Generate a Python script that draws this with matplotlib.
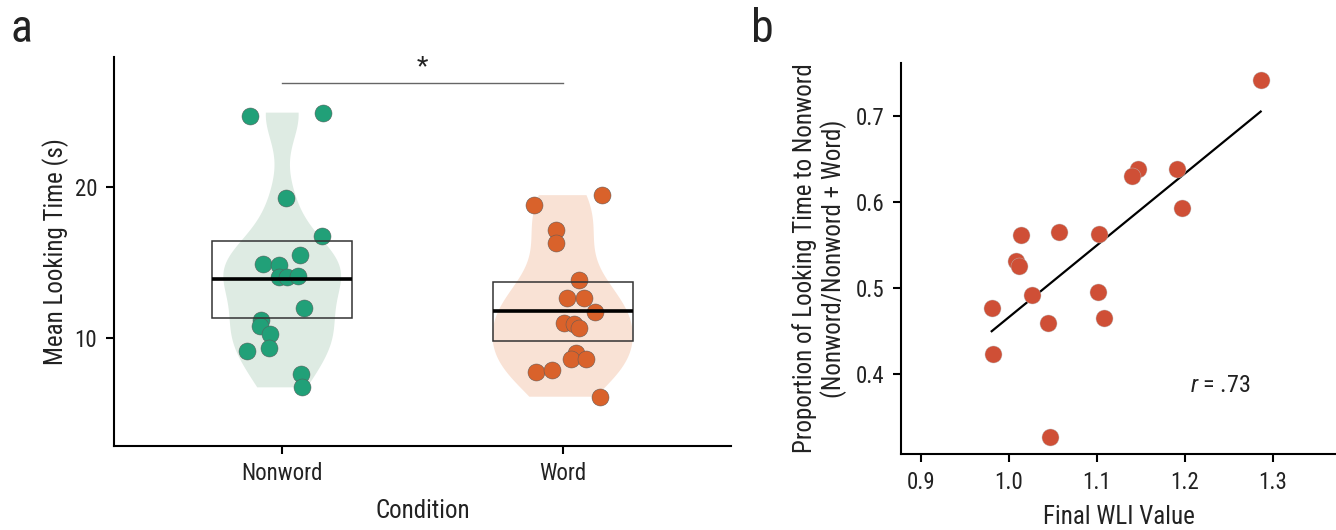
import numpy as np
import matplotlib
matplotlib.use("Agg")
import matplotlib.pyplot as plt
from matplotlib.patches import Rectangle

families = ['Roboto Condensed', 'Liberation Sans', 'DejaVu Sans']
plt.rcParams['font.family'] = families
plt.rcParams['mathtext.fontset'] = 'custom'
plt.rcParams['mathtext.rm'] = 'Roboto Condensed'
plt.rcParams['mathtext.it'] = 'Roboto Condensed:italic'

# --- Panel a: mean looking time per condition ---
conditions = ["Nonword", "Word"]
nonword_time = [24.69, 24.91, 19.22, 16.74, 15.46, 14.85, 14.80, 14.03, 13.99,
                14.09, 11.97, 11.14, 10.78, 10.21, 9.13, 9.28, 7.56, 6.70]
nonword_jitter = [-0.114, 0.145, 0.012, 0.143, 0.064, -0.070, -0.011, -0.013, 0.017,
                  0.058, 0.078, -0.075, -0.081, -0.043, -0.126, -0.047, 0.067, 0.071]
word_time = [18.77, 19.44, 17.12, 16.24, 13.79, 12.64, 12.64, 11.71, 10.96,
             10.92, 10.61, 8.99, 8.56, 8.56, 7.74, 7.87, 6.08]
word_jitter = [-0.103, 0.141, -0.025, -0.022, 0.058, 0.016, 0.076, 0.116, 0.004,
               0.039, 0.059, 0.048, 0.031, 0.082, -0.094, -0.039, 0.134]
ci_low = [11.32, 9.78]
ci_mean = [13.87, 11.76]
ci_high = [16.39, 13.67]
sig_level = 26.9

# --- Panel b: WLI vs proportion of looking time ---
wli = [1.2864, 1.1474, 1.1406, 1.1917, 1.1974, 1.0140, 1.0568, 1.1026, 1.0080,
       1.0114, 1.0269, 0.9807, 1.1015, 1.0443, 1.1087, 0.9818, 1.0469]
prop_nonword = [0.742, 0.6387, 0.6306, 0.6376, 0.5930, 0.5612, 0.5651, 0.5628, 0.5314,
                0.5248, 0.4919, 0.4767, 0.4949, 0.4593, 0.4643, 0.4224, 0.3267]
r_label = "$r$ = .73"

point_colors = ["#21a078", "#d9622b"]
violin_colors = ["#deebe3", "#f9e2d5"]
text_col = "#222222"


def nrd0(kde):
    # Silverman's rule of thumb as used by R's density() default
    d = np.asarray(kde.dataset).ravel()
    sd = d.std(ddof=1)
    iqr = np.subtract(*np.percentile(d, [75, 25]))
    return 0.9 * min(sd, iqr / 1.34) / sd * len(d) ** -0.2


fig = plt.figure(figsize=(13.36, 5.3), dpi=100)

# ---------- panel a ----------
ax1 = fig.add_axes([0.0853, 0.159, 0.4618, 0.7335])
parts = ax1.violinplot([nonword_time, word_time], positions=[0, 1],
                       widths=[0.42, 0.5], showextrema=False, bw_method=nrd0)
for body, c in zip(parts['bodies'], violin_colors):
    body.set_facecolor(c)
    body.set_edgecolor('none')
    body.set_alpha(1)
    body.set_zorder(1)

for i, (t, j) in enumerate([(nonword_time, nonword_jitter), (word_time, word_jitter)]):
    ax1.scatter(np.array(j) + i, t, s=150, color=point_colors[i],
                edgecolors='#5a5a5a', linewidths=0.35, zorder=3)
    ax1.add_patch(Rectangle((i - 0.25, ci_low[i]), 0.5, ci_high[i] - ci_low[i],
                            fill=False, ec='#333333', lw=1.1, zorder=4))
    ax1.plot([i - 0.25, i + 0.25], [ci_mean[i], ci_mean[i]], color='black',
             lw=2.6, zorder=5, solid_capstyle='butt')

ax1.plot([0, 1], [sig_level, sig_level], color='#666666', lw=1)
ax1.text(0.5, sig_level + 1.0, '*', ha='center', va='center', fontsize=19, color=text_col)

ax1.set_xlim(-0.6, 1.6)
ax1.set_ylim(2.83, 28.6)
ax1.set_xticks([0, 1])
ax1.set_xticklabels(conditions)
ax1.set_yticks([10, 20])
ax1.set_xlabel("Condition", fontsize=18, color=text_col, labelpad=10)
ax1.set_ylabel("Mean Looking Time (s)", fontsize=18, color=text_col)

# ---------- panel b ----------
ax2 = fig.add_axes([0.6744, 0.1428, 0.3256, 0.739])
ax2.scatter(wli, prop_nonword, s=150, color="#cf4f36", edgecolors='#b9b9b9',
            linewidths=0.3, zorder=3)
slope, intercept = np.polyfit(wli, prop_nonword, 1)
xs = np.array([min(wli), max(wli)])
ax2.plot(xs, slope * xs + intercept, color='black', lw=1.6, zorder=2)
ax2.text(1.206, 0.386, r_label, fontsize=17.5, color=text_col, va='center')

ax2.set_xlim(0.8776, 1.372)
ax2.set_ylim(0.306, 0.762)
ax2.set_xticks([0.9, 1.0, 1.1, 1.2, 1.3])
ax2.set_yticks([0.4, 0.5, 0.6, 0.7])
ax2.set_xlabel("Final WLI Value", fontsize=18, color=text_col, labelpad=8)
ax2.set_ylabel("Proportion of Looking Time to Nonword\n(Nonword/Nonword + Word)",
               fontsize=18, color=text_col, linespacing=1.15, labelpad=6)

for ax in (ax1, ax2):
    for side in ('top', 'right'):
        ax.spines[side].set_visible(False)
    for side in ('left', 'bottom'):
        ax.spines[side].set_linewidth(1.5)
    ax.tick_params(length=6, width=1.5, labelsize=16.5, labelcolor=text_col, pad=6)

fig.text(0.008, 0.945, "a", fontsize=33, color=text_col, va='center')
fig.text(0.562, 0.945, "b", fontsize=33, color=text_col, va='center')

fig.savefig("out.png", dpi=100)
